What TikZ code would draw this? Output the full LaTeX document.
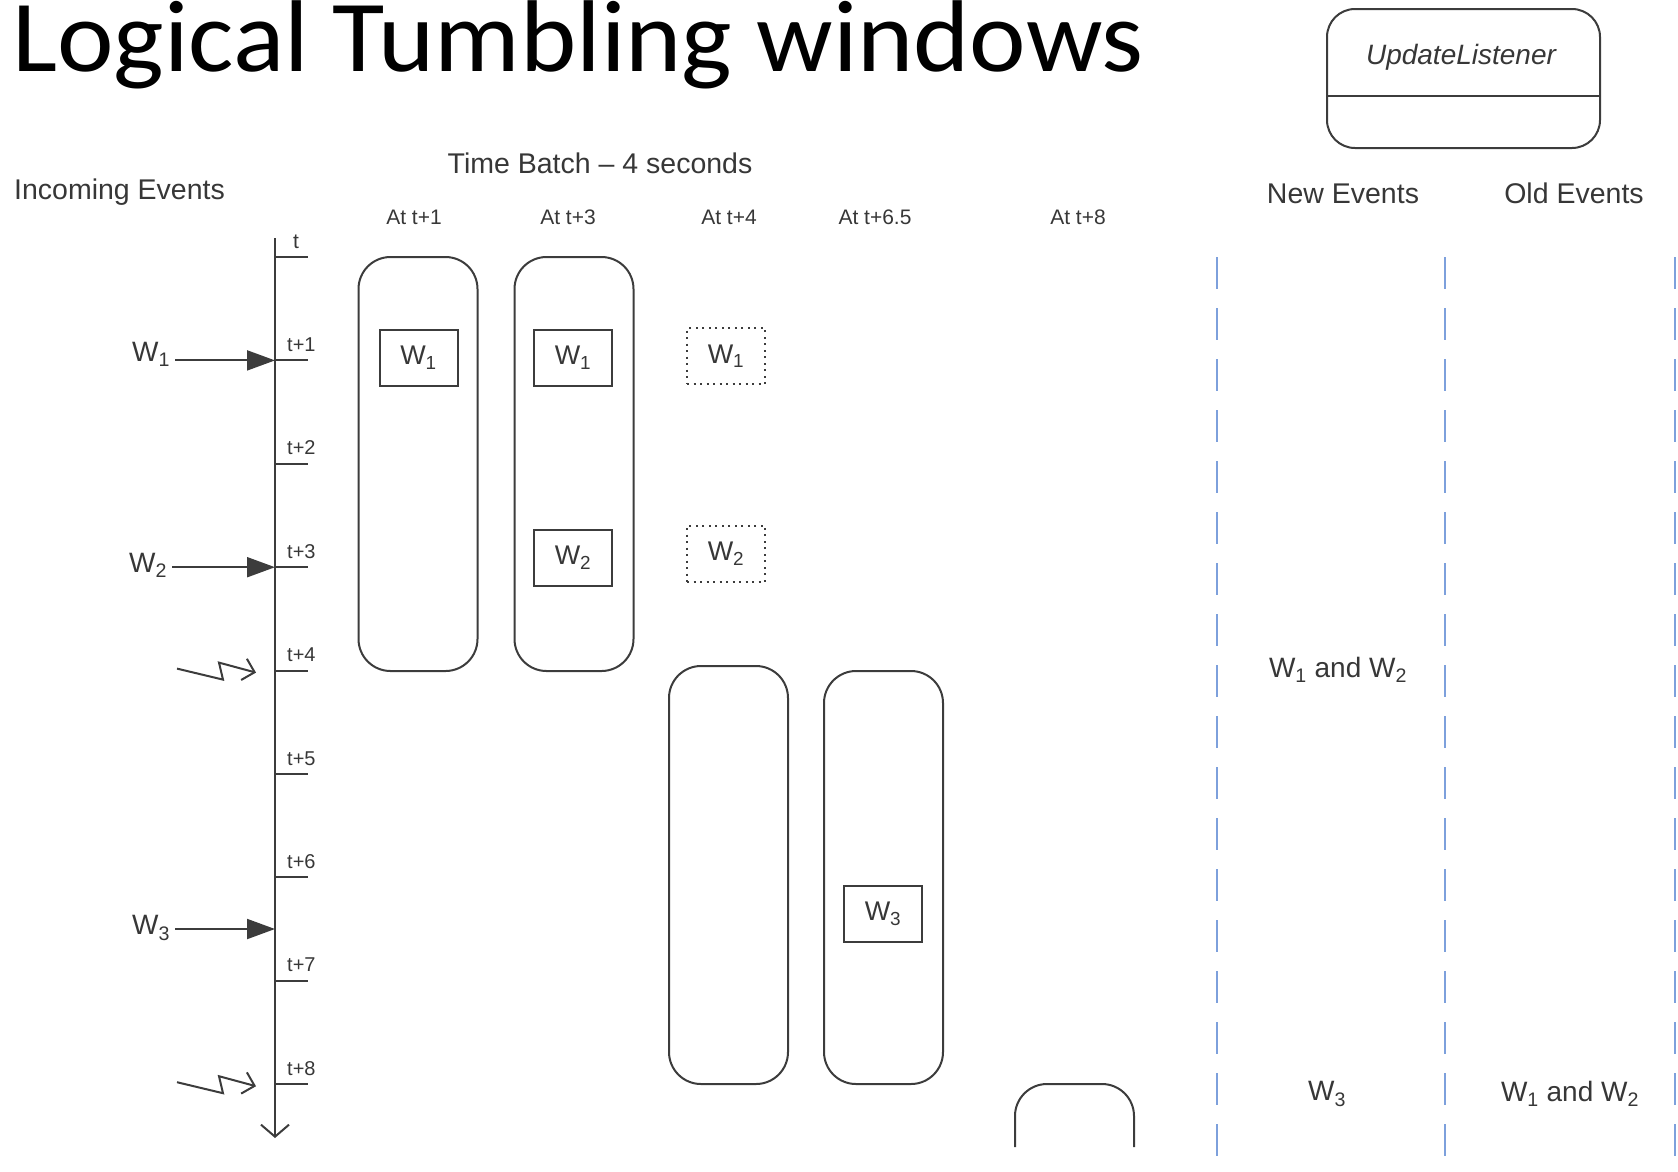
\documentclass[tikz,border=0pt]{standalone}
\usepackage{fontspec}
\setmainfont{Liberation Sans}
\newfontfamily\titlefont{Carlito}
\usetikzlibrary{arrows.meta,calc}
\definecolor{ln}{RGB}{60,60,60}
\definecolor{tx}{RGB}{55,55,55}
\definecolor{dblue}{RGB}{125,160,220}
\newcommand{\Wn}[1]{W\textsubscript{#1}}
\begin{document}
\begin{tikzpicture}[x=1pt,y=-1pt,
  every node/.style={inner sep=0pt},
  lnw/.style={draw=ln, line width=2pt},
  win/.style={lnw, rounded corners=32pt, minimum width=119pt},
  ev/.style={lnw, minimum width=78pt, minimum height=56pt, text=tx, font=\fontsize{27}{27}\selectfont},
  evd/.style={ev, dash pattern=on 2pt off 4.5pt},
  hdr/.style={text=tx, font=\fontsize{28.5}{28.5}\selectfont},
  small/.style={text=tx, font=\fontsize{21}{21}\selectfont},
  wl/.style={text=tx, font=\fontsize{28}{28}\selectfont},
  tick/.style={text=tx, font=\fontsize{20}{20}\selectfont, anchor=base west},
  sep/.style={draw=dblue, line width=2.2pt, dash pattern=on 32pt off 19pt},
  filled/.style={lnw, -{Triangle[length=28pt,width=20pt]}},
  barb/.style={lnw, -{Straight Barb[length=11pt,width=22pt]}}
]
\useasboundingbox (0,0) rectangle (1678,1171);

% title
\node[anchor=base west, font=\titlefont\fontsize{102}{102}\selectfont] (title) at (12,71) {\scalebox{1.05}[1]{Logical Tumbling windows}};

% headers
\node[hdr, anchor=base west] (inc) at (14,199) {Incoming Events};
\node[hdr, anchor=base] (tb) at (600,173) {Time Batch -- 4 seconds};
\node[small, anchor=base] (h1) at (414,224) {At t+1};
\node[small, anchor=base] (h2) at (568,224) {At t+3};
\node[small, anchor=base] (h3) at (729,224) {At t+4};
\node[small, anchor=base] (h4) at (875,224) {At t+6.5};
\node[small, anchor=base] (h5) at (1078,224) {At t+8};
\node[hdr, anchor=base] (ne) at (1343,203) {New Events};
\node[hdr, anchor=base] (oe) at (1574,203) {Old Events};

% update listener
\node[lnw, rounded corners=28pt, minimum width=273pt, minimum height=139pt] (ul) at (1463.5,78.5) {};
\draw[lnw] (ul.west |- {0,96}) -- (ul.east |- {0,96});
\node[text=tx, font=\fontsize{28}{28}\selectfont\itshape] (ult) at (1461,57) {UpdateListener};

% timeline
\coordinate (top) at (275,238);
\coordinate (bot) at (275,1138);
\draw[lnw, -{Straight Barb[length=12pt,width=28pt]}] (top) -- (bot);
\foreach \i in {0,...,8}{
  \coordinate (tk\i) at (275,{257+103.4*\i});
  \draw[lnw] (tk\i) -- ++(33,0);
}
\node[small, anchor=base] (tl0) at (296,248) {t};
\foreach \i/\lab in {1/t+1,2/t+2,3/t+3,4/t+4,5/t+5,6/t+6,7/t+7,8/t+8}{
  \node[tick] (tl\i) at ($(tk\i)+(12,-9)$) {\lab};
}

% incoming events
\node[wl] (w1l) at (151,354) {\Wn{1}};
\node[wl] (w2l) at (148,565) {\Wn{2}};
\node[wl] (w3l) at (151,928) {\Wn{3}};
\coordinate (tw3) at (275,929);
\draw[filled] ([xshift=5pt]w1l.east |- tk1) -- (tk1);
\draw[filled] ([xshift=5pt]w2l.east |- tk3) -- (tk3);
\draw[filled] ([xshift=5pt]w3l.east |- tw3) -- (tw3);

% triggers
\draw[barb, shift={(tk4)}] (-98,-2) -- (-52,9) -- (-56,-8) -- (-19,2);
\draw[barb, shift={(tk8)}] (-98,-2) -- (-52,9) -- (-56,-8) -- (-19,2);

% windows
\node[win, minimum height=414pt] (b1) at (418,464) {};
\node[win, minimum height=414pt] (b2) at (574,464) {};
\node[win, minimum height=418pt] (b3) at (728.5,875) {};
\node[win, minimum height=413pt] (b4) at (883.5,877.5) {};
\draw[lnw, rounded corners=32pt] (1015,1147) -- (1015,1084) -- (1134,1084) -- (1134,1147);

% events in windows
\node[ev] (e1) at (418.5,357.5) {\Wn{1}};
\node[ev] (e2) at (573,357.5) {\Wn{1}};
\node[ev] (e3) at (573,557.5) {\Wn{2}};
\node[evd] (e4) at (726,356) {\Wn{1}};
\node[evd] (e5) at (726,553.5) {\Wn{2}};
\node[ev] (e6) at (883,914) {\Wn{3}};

% separators
\coordinate (s1t) at (1217,257); \coordinate (s1b) at (1217,1171);
\coordinate (s2t) at (1445,257); \coordinate (s2b) at (1445,1171);
\coordinate (s3t) at (1675,257); \coordinate (s3b) at (1675,1171);
\draw[sep] (s1t) -- (s1b);
\draw[sep] (s2t) -- (s2b);
\draw[sep] (s3t) -- (s3b);

% listener outputs
\node[wl] (n1) at (1338,670) {\Wn{1} and \Wn{2}};
\node[wl] (n2) at (1327,1094) {\Wn{3}};
\node[wl] (o2) at (1570,1094) {\Wn{1} and \Wn{2}};
\end{tikzpicture}
\end{document}
